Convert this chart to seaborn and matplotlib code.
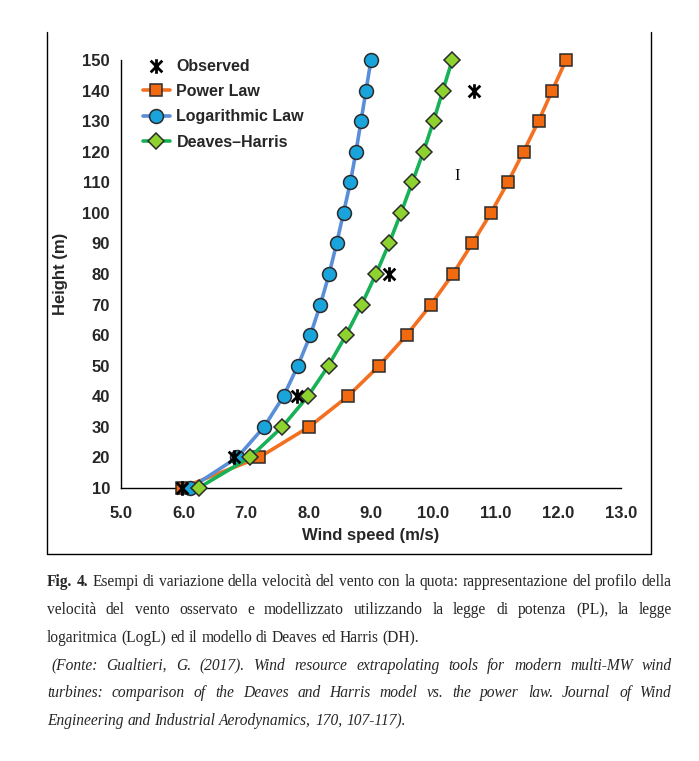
import matplotlib
matplotlib.use("Agg")
import matplotlib.pyplot as plt
import seaborn as sns
import pandas as pd
from matplotlib.path import Path
from matplotlib.lines import Line2D

# Data
heights = [10, 20, 30, 40, 50, 60, 70, 80, 90, 100, 110, 120, 130, 140, 150]
power_law = [5.97, 7.21, 8.01, 8.63, 9.13, 9.57, 9.96, 10.31, 10.62, 10.92,
             11.19, 11.44, 11.68, 11.90, 12.12]
log_law = [6.11, 6.86, 7.29, 7.60, 7.83, 8.03, 8.19, 8.33, 8.45, 8.56,
           8.67, 8.76, 8.84, 8.92, 9.00]
deaves_harris = [6.24, 7.06, 7.58, 7.99, 8.32, 8.60, 8.85, 9.08, 9.29, 9.48,
                 9.66, 9.84, 10.00, 10.15, 10.30]
obs_heights = [10, 20, 40, 80, 140]
observed = [5.97, 6.80, 7.81, 9.28, 10.64]

x_ticks = [5.0, 6.0, 7.0, 8.0, 9.0, 10.0, 11.0, 12.0, 13.0]
y_ticks = list(range(10, 151, 10))

sns.set_theme(style="white")
plt.rcParams['font.family'] = ['Liberation Sans', 'DejaVu Sans']

W, H = 699, 761
fig = plt.figure(figsize=(W / 100, H / 100), dpi=100)
ax = fig.add_axes([121 / W, 1 - 488 / H, 500 / W, 428 / H])

# Excel-like star: an X with a vertical bar
star = Path([(-1, -1), (1, 1), (-1, 1), (1, -1), (0, -1.25), (0, 1.25)],
            [Path.MOVETO, Path.LINETO, Path.MOVETO, Path.LINETO, Path.MOVETO, Path.LINETO])

df_obs = pd.DataFrame({"speed": observed, "height": obs_heights})
sns.scatterplot(data=df_obs, x="speed", y="height", marker=star, s=110, color="black",
                edgecolor="black", linewidth=2.0, label="Observed", ax=ax, zorder=5, clip_on=False)

series = [
    ("Power Law", power_law, "#F37021", "s", "#F26A10", 9),
    ("Logarithmic Law", log_law, "#5B8ED8", "o", "#19A4DC", 10),
    ("Deaves\u2013Harris", deaves_harris, "#18B157", "D", "#8DD22E", 8),
]
for name, vals, lc, mk, fc, ms in series:
    d = pd.DataFrame({"speed": vals, "height": heights})
    sns.lineplot(data=d, x="speed", y="height", sort=False, color=lc, linewidth=2.6,
                 marker=mk, markersize=ms, markerfacecolor=fc, markeredgecolor="#2b2b2b",
                 markeredgewidth=1.1, label=name, ax=ax, clip_on=False, zorder=4)

ax.set_xlim(5, 13)
ax.set_ylim(10, 150)
ax.set_xticks(x_ticks)
ax.set_xticklabels([f"{v:.1f}" for v in x_ticks])
ax.set_yticks(y_ticks)
for s in ["top", "right"]:
    ax.spines[s].set_visible(False)
for s in ["left", "bottom"]:
    ax.spines[s].set_color("black")
    ax.spines[s].set_linewidth(1.0)
ax.tick_params(axis="y", direction="out", length=5, width=1, color="black", labelsize=12, pad=3)
ax.tick_params(axis="x", direction="in", length=5, width=1, color="black", labelsize=12, pad=13)
for lab in ax.get_xticklabels() + ax.get_yticklabels():
    lab.set_fontweight("bold")
ax.set_xlabel("Wind speed (m/s)", fontsize=12, fontweight="bold", labelpad=5)
ax.set_ylabel("Height (m)", fontsize=12, fontweight="bold", labelpad=10)

leg = ax.legend(loc="upper left", bbox_to_anchor=(0.015, 1.037), frameon=False,
                handlelength=1.7, handletextpad=0.4, labelspacing=0.65,
                prop={"weight": "bold", "size": 11.5})

# cursor artefact visible in the screenshot
fig.text(457 / W, 1 - 176 / H, "I", fontsize=12, family="Liberation Serif",
         ha="center", va="center", color="black")

# frame around the chart area (top edge cut off in the original)
fig.add_artist(Line2D([47 / W, 47 / W, 651 / W, 651 / W],
                      [1 - 32 / H, 1 - 554 / H, 1 - 554 / H, 1 - 32 / H],
                      transform=fig.transFigure, color="black", linewidth=1.0))

# caption, justified like the original page
renderer = fig.canvas.get_renderer()
cap_size = 11.2


def put_line(words, y_px, x0, x1, justify):
    items = []
    for w, style, weight in words:
        t = fig.text(0, 0, w, fontsize=cap_size, family="Liberation Serif",
                     style=style, weight=weight, va="baseline", ha="left",
                     transform=fig.dpi_scale_trans)
        items.append(t)
    widths = [t.get_window_extent(renderer).width for t in items]
    sp = fig.text(0, 0, "a a", fontsize=cap_size, family="Liberation Serif")
    sp2 = fig.text(0, 0, "aa", fontsize=cap_size, family="Liberation Serif")
    space = sp.get_window_extent(renderer).width - sp2.get_window_extent(renderer).width
    sp.remove()
    sp2.remove()
    if justify and len(items) > 1:
        gap = max((x1 - x0 - sum(widths)) / (len(items) - 1), space * 0.8)
    else:
        gap = space
    x = x0
    for t, w in zip(items, widths):
        t.set_position((x / 100, (H - y_px) / 100))
        x += w + gap


def words_of(text, style="normal", weight="normal"):
    return [(w, style, weight) for w in text.split()]


lines = [
    (words_of("Fig. 4.", weight="bold") + words_of(
        "Esempi di variazione della velocità del vento con la quota: rappresentazione del profilo della"),
     586, 47, 672, True),
    (words_of("velocità del vento osservato e modellizzato utilizzando la legge di potenza (PL), la legge"),
     614, 47, 672, True),
    (words_of("logaritmica (LogL) ed il modello di Deaves ed Harris (DH)."), 642, 47, 672, False),
    (words_of("(Fonte: Gualtieri, G. (2017). Wind resource extrapolating tools for modern multi-MW wind",
              style="italic"), 670, 51, 672, True),
    (words_of("turbines: comparison of the Deaves and Harris model vs. the power law. Journal of Wind",
              style="italic"), 697, 47, 672, True),
    (words_of("Engineering and Industrial Aerodynamics, 170, 107-117).", style="italic"),
     725, 47, 672, False),
]
for words, y, x0, x1, just in lines:
    put_line(words, y, x0, x1, just)

fig.savefig("out.png", dpi=100, facecolor="white")
